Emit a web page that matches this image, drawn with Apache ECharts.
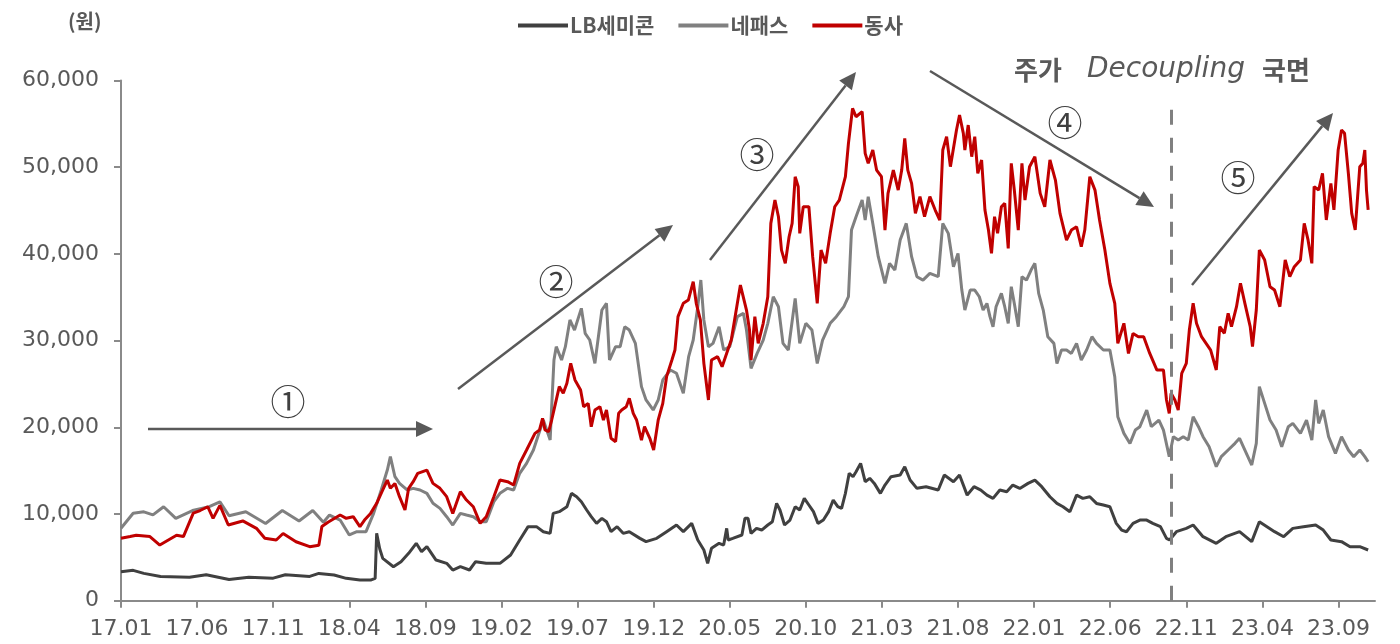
<!DOCTYPE html>
<html>
<head>
<meta charset="utf-8">
<title>LB세미콘 / 네패스 / 동사 주가</title>
<script src="https://cdn.jsdelivr.net/npm/echarts@6/dist/echarts.min.js"></script>
<style>
  html, body { margin: 0; padding: 0; background: #fff; }
  #chart { width: 1400px; height: 644px; }
</style>
</head>
<body>
<div id="chart"></div>
<script>
// x = months since 17.01, y = 원
const tickLabels = ['17.01', '17.06', '17.11', '18.04', '18.09', '19.02', '19.07', '19.12', '20.05',
  '20.10', '21.03', '21.08', '22.01', '22.06', '22.11', '23.04', '23.09']
const tickMonths = tickLabels.map((_, i) => i * 5)
const decouplingMonth = 69

const lbSemicon = [
  [0, 3340], [0.8, 3500], [1.5, 3150], [2.6, 2800], [4.5, 2700], [5.6, 3000], [7.1, 2450], [8.4, 2700],
  [10.0, 2600], [10.8, 3000], [12.4, 2800], [13.0, 3150], [14.0, 2960], [14.8, 2580], [15.7, 2380],
  [16.4, 2380], [16.7, 2580], [16.8, 7770], [17.0, 6000], [17.2, 4880], [17.9, 3920], [18.4, 4500],
  [18.9, 5460], [19.4, 6620], [19.75, 5650], [20.1, 6230], [20.7, 4690], [21.4, 4310], [21.8, 3540],
  [22.3, 3920], [22.9, 3540], [23.3, 4500], [24.0, 4310], [24.9, 4310], [25.6, 5270], [26.2, 7000],
  [26.75, 8540], [27.3, 8540], [27.75, 7960], [28.2, 7770], [28.4, 10070], [28.8, 10270], [29.3, 10840],
  [29.6, 12380], [29.94, 12000], [30.25, 11420], [30.6, 10460], [30.9, 9690], [31.25, 8920], [31.6, 9500],
  [31.9, 9110], [32.2, 7960], [32.6, 8540], [33.0, 7770], [33.4, 7960], [34.1, 7190], [34.5, 6810],
  [35.2, 7190], [35.85, 7960], [36.5, 8730], [36.95, 7960], [37.5, 8920], [37.9, 7000], [38.3, 5850],
  [38.55, 4310], [38.8, 6040], [39.3, 6620], [39.6, 6420], [39.8, 8340], [39.9, 7000], [40.2, 7190],
  [40.8, 7580], [41.0, 9500], [41.2, 9500], [41.4, 7770], [41.76, 8340], [42.1, 8150], [42.5, 8730],
  [42.8, 9110], [43.08, 11230], [43.3, 10460], [43.6, 8730], [43.96, 9300], [44.3, 10840], [44.6, 10460],
  [44.9, 11800], [45.2, 11040], [45.5, 10270], [45.8, 8920], [46.15, 9300], [46.5, 10270], [46.8, 11610],
  [47.1, 10840], [47.35, 10650], [47.6, 12380], [47.85, 14690], [48.1, 14300], [48.3, 14880], [48.6, 15840],
  [48.9, 13730], [49.2, 14110], [49.5, 13530], [49.9, 12380], [50.2, 13340], [50.6, 14300], [51.2, 14490],
  [51.5, 15450], [51.85, 13920], [52.3, 12960], [52.9, 13150], [53.7, 12770], [54.1, 14490], [54.7, 13730],
  [55.1, 14490], [55.6, 12180], [56.05, 13150], [56.5, 12760], [56.9, 12180], [57.3, 11800], [57.75, 12760],
  [58.2, 12570], [58.6, 13340], [59.06, 12950], [59.6, 13530], [60.05, 13910], [60.5, 13150], [61.04, 11990],
  [61.5, 11220], [61.9, 10840], [62.35, 10260], [62.79, 12180], [63.2, 11800], [63.66, 11990], [64.1, 11220],
  [64.55, 11030], [64.98, 10840], [65.4, 8920], [65.75, 8150], [66.07, 7950], [66.5, 8920], [66.95, 9300],
  [67.4, 9300], [67.8, 8920], [68.3, 8540], [68.7, 7190], [68.9, 7000], [69.35, 7960], [70.0, 8340],
  [70.45, 8730], [71.1, 7380], [71.97, 6620], [72.6, 7380], [73.5, 7960], [74.3, 6810], [74.8, 9110],
  [75.3, 8540], [75.8, 7960], [76.4, 7380], [77.0, 8340], [77.7, 8540], [78.5, 8730], [79.0, 8150],
  [79.5, 7000], [80.2, 6810], [80.76, 6230], [81.4, 6230], [81.95, 5850]
]

const nepes = [
  [0, 8350], [0.8, 10080], [1.5, 10250], [2.1, 9900], [2.8, 10840], [3.6, 9500], [4.7, 10400], [5.8, 10840],
  [6.5, 11400], [7.1, 9800], [8.2, 10250], [9.5, 8900], [10.6, 10400], [11.7, 9200], [12.6, 10400],
  [13.3, 9050], [13.7, 9880], [14.4, 9300], [15.0, 7580], [15.5, 7960], [16.1, 7960], [16.6, 10070],
  [17.1, 12770], [17.5, 15070], [17.7, 16610], [18.0, 14300], [18.3, 13530], [18.8, 12770], [19.2, 12960],
  [19.65, 12770], [20.1, 12380], [20.5, 11230], [20.96, 10650], [21.4, 9690], [21.8, 8730], [22.3, 10070],
  [22.7, 9880], [23.15, 9690], [23.6, 9110], [24.0, 9110], [24.5, 11420], [24.9, 12380], [25.4, 12960],
  [25.8, 12770], [26.2, 14690], [26.65, 15840], [27.1, 17380], [27.75, 20840], [28.2, 18530], [28.3, 22380],
  [28.45, 27760], [28.6, 29300], [28.95, 27760], [29.2, 29300], [29.5, 32380], [29.8, 31220], [30.25, 33720],
  [30.5, 30840], [30.8, 30070], [31.14, 27380], [31.6, 33530], [31.9, 34300], [32.1, 27760], [32.5, 29300],
  [32.8, 29300], [33.1, 31600], [33.4, 31220], [33.8, 29680], [34.2, 24690], [34.5, 23150], [34.97, 22000],
  [35.3, 23150], [35.6, 25460], [36.1, 26610], [36.5, 26230], [36.95, 23920], [37.3, 28150], [37.6, 30070],
  [37.9, 33910], [38.1, 36990], [38.3, 32380], [38.6, 29300], [38.9, 29680], [39.3, 31600], [39.6, 28910],
  [40.0, 29300], [40.5, 32760], [40.9, 33140], [41.1, 31220], [41.4, 26790], [41.8, 28520], [42.2, 30060],
  [42.5, 31990], [42.86, 35060], [43.2, 33910], [43.5, 29680], [43.85, 28910], [44.3, 34870], [44.6, 29680],
  [45.0, 31990], [45.4, 31220], [45.75, 27370], [46.1, 30060], [46.6, 31990], [47.0, 32760], [47.5, 33910],
  [47.8, 35060], [48.0, 42750], [48.3, 44290], [48.7, 46210], [48.9, 43900], [49.1, 46600], [49.4, 43520],
  [49.76, 39680], [50.2, 36600], [50.5, 38910], [50.85, 38140], [51.2, 41600], [51.6, 43520], [51.95, 39680],
  [52.3, 37370], [52.7, 36980], [53.15, 37750], [53.7, 37370], [54.0, 43520], [54.36, 42370], [54.7, 38520],
  [55.0, 40060], [55.25, 35830], [55.45, 33520], [55.8, 35830], [56.1, 35830], [56.4, 35060], [56.65, 33520],
  [56.9, 34290], [57.1, 32760], [57.3, 31600], [57.5, 33910], [57.85, 35450], [58.07, 33910], [58.3, 31990],
  [58.5, 36220], [58.7, 34290], [58.96, 31600], [59.2, 37370], [59.5, 36980], [59.8, 38140], [60.05, 38910],
  [60.3, 35450], [60.6, 33520], [60.9, 30450], [61.3, 29680], [61.5, 27370], [61.8, 28910], [62.13, 28910],
  [62.45, 28520], [62.79, 29680], [63.1, 27760], [63.45, 28910], [63.8, 30450], [64.1, 29680], [64.55, 28910],
  [64.98, 28910], [65.3, 25830], [65.5, 21220], [65.9, 19300], [66.3, 18140], [66.65, 19680], [66.95, 20070],
  [67.4, 21990], [67.7, 20070], [68.2, 20830], [68.5, 19680], [68.88, 16610], [69.15, 18920], [69.47, 18530],
  [69.8, 18920], [70.13, 18530], [70.45, 21220], [70.8, 20070], [71.1, 18920], [71.5, 17760], [71.97, 15460],
  [72.3, 16610], [72.75, 17380], [73.2, 18150], [73.5, 18730], [73.85, 17380], [74.3, 15650], [74.6, 18150],
  [74.8, 24690], [75.15, 22760], [75.5, 20840], [75.9, 19690], [76.27, 17760], [76.7, 20070], [77.0, 20450],
  [77.5, 19300], [77.9, 20840], [78.25, 18530], [78.5, 23150], [78.7, 20450], [79.0, 21990], [79.35, 18920],
  [79.8, 16990], [80.2, 18920], [80.65, 17380], [81.0, 16610], [81.4, 17380], [81.73, 16610], [81.95, 16030]
]

const company = [
  [0, 7200], [0.6, 7400], [1.0, 7550], [1.9, 7400], [2.55, 6420], [3.65, 7550], [4.1, 7400], [4.75, 10100],
  [5.2, 10400], [5.7, 10840], [6.05, 9500], [6.5, 11000], [7.05, 8730], [8.0, 9200], [8.9, 8350], [9.45, 7200],
  [10.2, 7000], [10.65, 7750], [11.5, 6800], [12.4, 6230], [13.0, 6400], [13.2, 8550], [13.6, 9050],
  [14.4, 9880], [14.8, 9500], [15.26, 9690], [15.7, 8540], [16.0, 9300], [16.4, 10070], [16.8, 11230],
  [17.2, 12770], [17.5, 13920], [17.7, 12960], [18.0, 13530], [18.3, 12000], [18.66, 10460], [18.9, 12960],
  [19.2, 13730], [19.5, 14690], [20.1, 15070], [20.5, 13530], [20.96, 12960], [21.4, 12000], [21.8, 10070],
  [22.3, 12570], [22.7, 11610], [23.15, 10840], [23.6, 8920], [24.0, 9690], [24.5, 12000], [24.9, 13920],
  [25.4, 13730], [25.8, 13340], [26.2, 15840], [26.65, 17380], [27.2, 19300], [27.5, 19690], [27.7, 21030],
  [27.86, 19690], [28.1, 19500], [28.3, 20840], [28.5, 22380], [28.8, 24690], [29.06, 23920], [29.3, 25070],
  [29.55, 27380], [29.83, 25460], [30.2, 24300], [30.4, 22380], [30.7, 22760], [30.9, 20070], [31.14, 22000],
  [31.47, 22380], [31.7, 20840], [31.9, 22000], [32.2, 18730], [32.5, 18340], [32.7, 21610], [32.9, 22000],
  [33.2, 22380], [33.4, 23340], [33.66, 21610], [33.88, 20840], [34.2, 18530], [34.4, 20070], [34.75, 18730],
  [35.0, 17380], [35.3, 20840], [35.6, 22760], [35.85, 25840], [36.2, 27760], [36.4, 28910], [36.6, 32760],
  [36.95, 34300], [37.28, 34680], [37.6, 36800], [37.8, 34300], [38.07, 32380], [38.3, 27380], [38.6, 23150],
  [38.8, 27760], [39.2, 28150], [39.5, 26990], [39.8, 28530], [40.1, 30070], [40.5, 34300], [40.7, 36410],
  [41.1, 33520], [41.3, 31220], [41.4, 27760], [41.65, 32760], [41.87, 29680], [42.2, 31990], [42.5, 35060],
  [42.7, 43520], [42.97, 46210], [43.2, 44290], [43.4, 40440], [43.65, 38910], [43.9, 41980], [44.1, 43520],
  [44.3, 48900], [44.5, 47750], [44.6, 42370], [44.83, 45440], [45.2, 45440], [45.45, 39680], [45.75, 34290],
  [46.0, 40440], [46.3, 38910], [46.6, 42370], [46.9, 45440], [47.2, 46210], [47.6, 48900], [47.8, 52750],
  [48.07, 56790], [48.3, 55820], [48.7, 56400], [48.9, 51590], [49.1, 50440], [49.4, 51980], [49.65, 49670],
  [49.97, 48900], [50.2, 42750], [50.4, 46980], [50.75, 49670], [51.07, 47360], [51.3, 49670], [51.5, 53320],
  [51.7, 49670], [51.95, 48130], [52.2, 44670], [52.5, 46600], [52.8, 44290], [53.15, 46600], [53.5, 45060],
  [53.8, 43900], [54.0, 51980], [54.25, 53520], [54.5, 50060], [54.9, 54290], [55.1, 56020], [55.35, 53900],
  [55.45, 51980], [55.67, 54860], [55.9, 51210], [56.1, 53520], [56.3, 49290], [56.55, 50830], [56.77, 45060],
  [57.0, 42750], [57.2, 40060], [57.4, 44290], [57.6, 42370], [57.85, 45440], [58.07, 45830], [58.3, 40640],
  [58.5, 50440], [58.7, 47360], [58.96, 42750], [59.2, 50440], [59.4, 46210], [59.7, 50060], [60.05, 51210],
  [60.4, 46980], [60.7, 45440], [61.04, 50830], [61.4, 48520], [61.7, 44670], [62.13, 41600], [62.45, 42750],
  [62.79, 43130], [63.1, 40830], [63.33, 42750], [63.66, 48900], [64.0, 47360], [64.3, 43900], [64.65, 40440],
  [64.98, 36600], [65.3, 34290], [65.5, 29680], [65.9, 31990], [66.2, 28520], [66.5, 30830], [66.85, 30450],
  [67.2, 30450], [67.6, 28520], [68.07, 26600], [68.5, 26610], [68.7, 23150], [68.88, 21610], [69.0, 23920],
  [69.25, 23150], [69.47, 21990], [69.7, 26220], [70.0, 27380], [70.2, 31220], [70.45, 34300], [70.67, 31990],
  [71.0, 30450], [71.3, 29680], [71.6, 28910], [71.97, 26610], [72.2, 31610], [72.5, 30840], [72.75, 33140],
  [72.97, 31610], [73.3, 33910], [73.56, 36610], [73.85, 34300], [74.2, 31610], [74.35, 29300], [74.6, 33530],
  [74.8, 40450], [75.15, 39300], [75.5, 36220], [75.8, 35840], [76.15, 33910], [76.5, 39300], [76.8, 37380],
  [77.1, 38530], [77.5, 39300], [77.75, 43530], [78.0, 41610], [78.25, 38910], [78.4, 47760], [78.7, 47370],
  [78.95, 49300], [79.2, 43910], [79.5, 48140], [79.7, 45070], [79.98, 51990], [80.2, 54290], [80.4, 53910],
  [80.65, 49300], [80.87, 44680], [81.1, 42760], [81.4, 50060], [81.6, 50450], [81.73, 51990], [81.84, 47370],
  [81.95, 45070]
]

const labelColor = '#595959'
const arrowColor = '#595959'

// 화살표 (주석용)
const arrow = (x1, y1, x2, y2) => {
  const len = Math.hypot(x2 - x1, y2 - y1)
  const ux = (x2 - x1) / len
  const uy = (y2 - y1) / len
  const headLen = 17
  const headHalf = 8
  const bx = x2 - ux * headLen
  const by = y2 - uy * headLen
  return {
    type: 'group',
    silent: true,
    children: [
      {
        type: 'line',
        shape: { x1: x1, y1: y1, x2: bx, y2: by },
        style: { stroke: arrowColor, lineWidth: 2.5 }
      },
      {
        type: 'polygon',
        shape: {
          points: [[x2, y2], [bx - uy * headHalf, by + ux * headHalf], [bx + uy * headHalf, by - ux * headHalf]]
        },
        style: { fill: arrowColor }
      }
    ]
  }
}

const circled = (x, y, txt) => ({
  type: 'text',
  x: x,
  y: y,
  silent: true,
  style: {
    text: txt,
    fontSize: 35,
    fontFamily: 'Noto Sans CJK KR',
    fill: '#404040',
    align: 'center',
    verticalAlign: 'middle'
  }
})

const chart = echarts.init(document.getElementById('chart'))

const options = {
  animation: false,
  backgroundColor: '#fff',
  grid: { left: 121, right: 25, top: 80.5, bottom: 43.3 },
  legend: {
    left: 513,
    top: 10,
    icon: 'rect',
    itemWidth: 50,
    itemHeight: 4,
    itemGap: 24,
    data: ['LB세미콘', '네패스', '동사'],
    textStyle: {
      color: labelColor,
      fontSize: 21,
      fontWeight: 'bold',
      fontFamily: 'Noto Sans CJK KR',
      padding: [0, 0, 0, -3]
    }
  },
  xAxis: {
    type: 'value',
    min: 0,
    max: 82.4,
    splitLine: { show: false },
    axisLine: { show: true, lineStyle: { color: '#8a8a8a', width: 2 } },
    axisTick: { show: true, length: 7, customValues: tickMonths, lineStyle: { color: '#8a8a8a', width: 2 } },
    axisLabel: {
      customValues: tickMonths,
      formatter: v => tickLabels[Math.round(v / 5)],
      color: labelColor,
      fontSize: 22,
      fontFamily: 'DejaVu Sans',
      margin: 18
    }
  },
  yAxis: {
    type: 'value',
    min: 0,
    max: 60000,
    interval: 10000,
    splitLine: { show: false },
    axisLine: { show: true, lineStyle: { color: '#8a8a8a', width: 2 } },
    axisTick: { show: true, length: 7, lineStyle: { color: '#8a8a8a', width: 2 } },
    axisLabel: {
      formatter: v => v.toLocaleString('en-US'),
      color: labelColor,
      fontSize: 22,
      fontFamily: 'DejaVu Sans',
      margin: 22
    }
  },
  series: [
    {
      name: 'LB세미콘',
      type: 'line',
      data: lbSemicon,
      showSymbol: false,
      symbol: 'none',
      itemStyle: { color: '#404040' },
      lineStyle: { color: '#404040', width: 3 },
      markLine: {
        silent: true,
        symbol: 'none',
        label: { show: false },
        lineStyle: { color: '#808080', width: 3, type: [15, 13] },
        data: [[{ coord: [decouplingMonth, 0] }, { coord: [decouplingMonth, 57000] }]]
      }
    },
    {
      name: '네패스',
      type: 'line',
      data: nepes,
      showSymbol: false,
      symbol: 'none',
      itemStyle: { color: '#808080' },
      lineStyle: { color: '#808080', width: 3 }
    },
    {
      name: '동사',
      type: 'line',
      data: company,
      showSymbol: false,
      symbol: 'none',
      itemStyle: { color: '#C00000' },
      lineStyle: { color: '#C00000', width: 3 }
    }
  ],
  graphic: [
    {
      type: 'text',
      left: 68,
      top: 11,
      style: { text: '(원)', fontSize: 20, fontWeight: 'bold', fontFamily: 'Noto Sans CJK KR', fill: labelColor }
    },
    {
      type: 'text', x: 1014, y: 70,
      style: { text: '주가', fontSize: 26, fontWeight: 'bold', fontFamily: 'Noto Sans CJK KR', fill: labelColor, verticalAlign: 'middle' }
    },
    {
      type: 'text', x: 1087, y: 70,
      style: { text: 'Decoupling', fontSize: 28, fontStyle: 'italic', fontFamily: 'DejaVu Sans', fill: labelColor, verticalAlign: 'middle' }
    },
    {
      type: 'text', x: 1262, y: 70,
      style: { text: '국면', fontSize: 26, fontWeight: 'bold', fontFamily: 'Noto Sans CJK KR', fill: labelColor, verticalAlign: 'middle' }
    },
    arrow(148, 429, 433, 429),
    arrow(458, 389, 673, 225),
    arrow(710, 260, 856, 72),
    arrow(930, 71, 1154, 207),
    arrow(1192, 285, 1333, 113),
    circled(288, 402, '①'),
    circled(556, 282, '②'),
    circled(757, 155, '③'),
    circled(1065, 123, '④'),
    circled(1238, 178, '⑤')
  ]
}

chart.setOption(options)
</script>
</body>
</html>
